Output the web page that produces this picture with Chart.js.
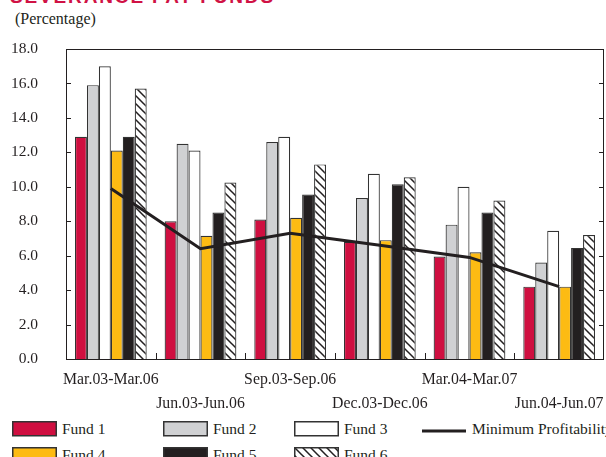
<!DOCTYPE html>
<html>
<head>
<meta charset="utf-8">
<script src="https://cdn.jsdelivr.net/npm/chart.js@4.4.1/dist/chart.umd.min.js"></script>
<style>
  html, body { margin: 0; padding: 0; background: #fff; overflow: hidden; width: 606px; height: 457px; }
  #wrap { position: relative; width: 606px; height: 457px; overflow: hidden; }
  #c { position: absolute; left: 0; top: 0; }
  #title { position: absolute; left: 10px; top: -13px; font: bold 19px "Liberation Sans", Arial, sans-serif; letter-spacing: 1.85px; color: #d01245; line-height: 19px; white-space: nowrap; }
  #unit { position: absolute; left: 15px; top: 10px; font: 16px "Liberation Serif", "Times New Roman", serif; color: #231f20; line-height: 18px; white-space: nowrap; }
  .lg { position: absolute; font: 15.5px "Liberation Serif", "Times New Roman", serif; color: #231f20; line-height: 16px; white-space: nowrap; }
  .lg canvas { position: absolute; left: 0; top: 0; }
  .lg span { position: absolute; top: 0px; }
</style>
</head>
<body>
<div id="wrap">
  <div id="title">SEVERANCE PAY FUNDS</div>
  <div id="unit">(Percentage)</div>
  <canvas id="c" width="606" height="420"></canvas>
  <div id="legend"></div>
</div>
<script>
// ---- data ----
const categories = ["Mar.03-Mar.06", "Jun.03-Jun.06", "Sep.03-Sep.06", "Dec.03-Dec.06", "Mar.04-Mar.07", "Jun.04-Jun.07"];
const seriesNames = ["Fund 1", "Fund 2", "Fund 3", "Fund 4", "Fund 5", "Fund 6"];
const lineName = "Minimum Profitability";
const fund1 = [12.9, 8.0, 8.1, 6.8, 5.95, 4.2];
const fund2 = [15.9, 12.5, 12.6, 9.35, 7.8, 5.6];
const fund3 = [17.0, 12.1, 12.9, 10.75, 10.0, 7.45];
const fund4 = [12.1, 7.15, 8.2, 6.9, 6.2, 4.2];
const fund5 = [12.9, 8.5, 9.55, 10.15, 8.5, 6.45];
const fund6 = [15.7, 10.25, 11.3, 10.55, 9.2, 7.2];
const minProfitability = [9.9, 6.4, 7.3, 6.6, 5.9, 4.2];
const yMin = 0, yMax = 18, yStep = 2;

// ---- styles ----
function hatch() {
  const p = document.createElement('canvas');
  p.width = 8; p.height = 8;
  const g = p.getContext('2d');
  g.fillStyle = '#ffffff'; g.fillRect(0, 0, 8, 8);
  g.strokeStyle = '#231f20'; g.lineWidth = 1.5;
  g.beginPath();
  g.moveTo(-2, -2); g.lineTo(10, 10);
  g.moveTo(-2, 6); g.lineTo(2, 10);
  g.moveTo(6, -2); g.lineTo(10, 2);
  g.stroke();
  return g.createPattern(p, 'repeat');
}
const fills = ['#cf0f40', '#d0d1d3', '#ffffff', '#fdbb13', '#231f20', hatch()];
const edge = '#333333';
const seriesData = [fund1, fund2, fund3, fund4, fund5, fund6];

const tickLabels = categories.map((c, i) => i % 2 === 0 ? [c, ''] : ['', c]);

const frame = {
  id: 'frame',
  afterDraw(chart) {
    const { ctx, chartArea: a, scales } = chart;
    ctx.save();
    ctx.strokeStyle = '#231f20';
    ctx.lineWidth = 1;
    ctx.strokeRect(a.left + 0.5, a.top + 0.5, a.right - a.left - 1, a.bottom - a.top);
    ctx.beginPath();
    scales.y.ticks.forEach(t => {
      const y = Math.round(scales.y.getPixelForValue(t.value)) + 0.5;
      ctx.moveTo(a.left, y); ctx.lineTo(a.left + 5, y);
      ctx.moveTo(a.right - 5, y); ctx.lineTo(a.right, y);
    });
    for (let i = 1; i < categories.length; i++) {
      const x = Math.round((scales.x.getPixelForValue(i - 1) + scales.x.getPixelForValue(i)) / 2) + 0.5;
      ctx.moveTo(x, a.bottom); ctx.lineTo(x, a.bottom - 6);
    }
    ctx.stroke();
    ctx.restore();
  }
};

const serif = '"Liberation Serif", "Times New Roman", serif';
const chart = new Chart(document.getElementById('c'), {
  data: {
    labels: tickLabels,
    datasets: [
      {
        type: 'line', label: lineName, data: minProfitability, order: 0,
        borderColor: '#231f20', borderWidth: 3, pointRadius: 0, tension: 0, fill: false
      },
      ...seriesNames.map((n, i) => ({
        type: 'bar', label: n, data: seriesData[i], order: 1,
        backgroundColor: fills[i], borderColor: edge, borderWidth: 1.2,
        barPercentage: 1.0, categoryPercentage: 0.8
      }))
    ]
  },
  options: {
    responsive: false,
    animation: false,
    devicePixelRatio: 1,
    layout: { padding: { top: 49, right: 2, left: 0, bottom: 0 } },
    plugins: { legend: { display: false }, tooltip: { enabled: false }, title: { display: false } },
    scales: {
      x: {
        offset: true,
        grid: { display: false, drawTicks: false },
        border: { display: false },
        ticks: { font: { family: serif, size: 15.8, lineHeight: 1.52 }, color: '#231f20', padding: 9, maxRotation: 0, autoSkip: false },
        afterFit(s) { s.height = 61; s.paddingLeft = 0; s.paddingRight = 0; }
      },
      y: {
        min: yMin, max: yMax,
        grid: { display: false, drawTicks: false },
        border: { display: false },
        ticks: { stepSize: yStep, font: { family: serif, size: 15.5 }, color: '#231f20', padding: 28, callback: v => Number(v).toFixed(1) },
        afterFit(s) { s.width = 66; s.paddingTop = 0; s.paddingBottom = 0; }
      }
    }
  },
  plugins: [frame]
});

// ---- legend ----
const legend = document.getElementById('legend');
const cols = [12, 163, 294, 422];
const rows = [421, 447];
function swatch(fill, isLine) {
  const cv = document.createElement('canvas');
  cv.width = 46; cv.height = 16;
  const g = cv.getContext('2d');
  if (isLine) {
    g.strokeStyle = '#231f20'; g.lineWidth = 3;
    g.beginPath(); g.moveTo(0, 10); g.lineTo(44, 10); g.stroke();
  } else {
    g.fillStyle = fill; g.fillRect(0.75, 0.75, 43.5, 14);
    g.strokeStyle = edge; g.lineWidth = 1.5; g.strokeRect(0.75, 0.75, 43.5, 14);
  }
  return cv;
}
const items = seriesNames.map((n, i) => ({ name: n, fill: fills[i], line: false }));
items.splice(3, 0, { name: lineName, fill: null, line: true });
items.forEach((it, k) => {
  const r = Math.floor(k / 4), c = k % 4;
  const d = document.createElement('div');
  d.className = 'lg';
  d.style.left = cols[c] + 'px';
  d.style.top = rows[r] + 'px';
  d.appendChild(swatch(it.fill, it.line));
  const s = document.createElement('span');
  s.textContent = it.name;
  s.style.left = '50px';
  d.appendChild(s);
  legend.appendChild(d);
});
</script>
</body>
</html>
